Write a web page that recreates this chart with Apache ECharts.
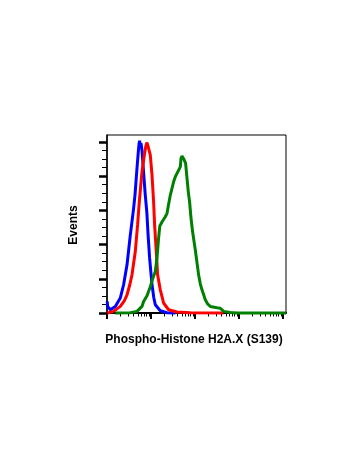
<!DOCTYPE html>
<html>
<head>
<meta charset="utf-8">
<title>Phospho-Histone H2A.X (S139) flow cytometry</title>
<script src="https://cdn.jsdelivr.net/npm/echarts@6/dist/echarts.min.js"></script>
<style>
  html, body { margin: 0; padding: 0; background: #fff; }
  #chart { width: 350px; height: 467px; }
</style>
</head>
<body>
<div id="chart"></div>
<script>
// Histogram traces: x = log10 fluorescence intensity, y = event count
const blueTrace = [
  [0.005, 13.5], [0.014, 7.7], [0.075, 3.8], [0.189, 7.7], [0.302, 17.5],
  [0.377, 33.0], [0.455, 56.3], [0.530, 91.2], [0.605, 122.3], [0.636, 137.8],
  [0.682, 169.3], [0.711, 187.9], [0.730, 198.4], [0.741, 201.3], [0.757, 194.9],
  [0.773, 198.4], [0.795, 190.2], [0.836, 161.2], [0.870, 137.8], [0.905, 118.0],
  [0.934, 91.2], [0.968, 64.4], [1.023, 33.0], [1.064, 17.8], [1.098, 9.7],
  [1.211, 2.7], [1.364, 0.3], [1.552, 0]
];
const redTrace = [
  [0.007, 0], [0.036, 0.3], [0.150, 1.9], [0.302, 7.7], [0.393, 14.3],
  [0.455, 21.3], [0.518, 33.0], [0.568, 44.6], [0.643, 71.8], [0.695, 102.9],
  [0.734, 130.0], [0.795, 165.0], [0.848, 184.4], [0.882, 194.9], [0.909, 199.2],
  [0.939, 193.7], [0.984, 184.4], [1.023, 161.2], [1.059, 130.0], [1.082, 102.9],
  [1.120, 71.8], [1.150, 44.6], [1.211, 27.1], [1.286, 11.7], [1.400, 3.8],
  [1.591, 1.2], [1.893, 0.3], [2.643, 0]
];
const greenTrace = [
  [0.189, 0], [0.530, 0.3], [0.682, 1.9], [0.795, 7.7], [0.832, 13.5],
  [0.909, 20.2], [0.984, 30.6], [1.030, 38.8], [1.098, 48.5], [1.136, 64.4],
  [1.173, 87.7], [1.200, 101.7], [1.250, 106.4], [1.286, 108.7], [1.325, 112.5],
  [1.364, 116.5], [1.393, 125.0], [1.439, 137.8], [1.477, 139.8], [1.514, 153.3],
  [1.552, 159.1], [1.591, 163.1], [1.627, 165.0], [1.666, 170.8], [1.682, 180.6],
  [1.705, 183.3], [1.723, 183.6], [1.741, 180.3], [1.764, 179.2], [1.786, 175.1],
  [1.818, 157.6], [1.848, 141.3], [1.877, 130.0], [1.909, 111.0], [1.945, 95.1],
  [2.007, 73.7], [2.082, 44.6], [2.120, 34.1], [2.159, 27.1], [2.234, 15.5],
  [2.291, 10.3], [2.348, 7.7], [2.500, 6.2], [2.575, 5.6], [2.650, 1.9],
  [2.802, 0.7], [2.955, 0.1], [4.068, 0.1]
];

// Log-decade ticks (as exponents) and count ticks
const xMajorTicks = [0, 1, 2, 3, 4];
const xMinorTicks = [];
for (let d = 0; d < 4; d++) {
  for (let m = 2; m <= 9; m++) xMinorTicks.push(d + Math.log10(m));
}
const yMajorTicks = [0, 40, 80, 120, 160, 200];
const yMinorTicks = [10, 20, 30, 50, 60, 70, 90, 100, 110, 130, 140, 150, 170, 180, 190];

const xLabel = 'Phospho-Histone H2A.X (S139)';
const yLabel = 'Events';

const X_MAX = 4.068;
const Y_MAX = 208;
const FONT = '"Liberation Sans", Arial, sans-serif';

const chart = echarts.init(document.getElementById('chart'), null, { renderer: 'canvas' });

function xAxisDef(ticks, len, width, showLine) {
  return {
    type: 'value', gridIndex: 0, position: 'bottom', min: 0, max: X_MAX,
    axisLine: { show: showLine, onZero: false, lineStyle: { color: '#000', width: 2 } },
    axisTick: { show: true, inside: false, length: len, customValues: ticks,
                lineStyle: { color: '#000', width: width } },
    axisLabel: { show: false, customValues: ticks },
    splitLine: { show: false }, minorTick: { show: false }
  };
}
function yAxisDef(ticks, len, width, showLine) {
  return {
    type: 'value', gridIndex: 0, position: 'left', min: 0, max: Y_MAX,
    axisLine: { show: showLine, onZero: false, lineStyle: { color: '#000', width: 1.5 } },
    axisTick: { show: true, inside: false, length: len, customValues: ticks,
                lineStyle: { color: '#000', width: width } },
    axisLabel: { show: false, customValues: ticks },
    splitLine: { show: false }, minorTick: { show: false }
  };
}

function traceSeries(data, color) {
  return {
    type: 'line', xAxisIndex: 0, yAxisIndex: 0, data: data,
    showSymbol: false, symbol: 'none', smooth: false, clip: false,
    lineStyle: { color: color, width: 3 }, animation: false
  };
}

chart.setOption({
  animation: false,
  backgroundColor: '#fff',
  grid: {
    left: 107, top: 135, width: 179, height: 178,
    show: true, borderColor: '#000', borderWidth: 1, backgroundColor: 'transparent'
  },
  xAxis: [
    xAxisDef(xMajorTicks, 6, 2, true),
    xAxisDef(xMinorTicks, 3.5, 1, false)
  ],
  yAxis: [
    yAxisDef(yMajorTicks, 8, 2.5, true),
    yAxisDef(yMinorTicks, 5, 1, false)
  ],
  series: [
    traceSeries(blueTrace, '#0000ff'),
    traceSeries(redTrace, '#ff0000'),
    traceSeries(greenTrace, '#008000')
  ],
  graphic: [
    {
      type: 'text', x: 194, y: 340,
      style: { text: xLabel, font: 'bold 12px ' + FONT, fill: '#000',
               align: 'center', verticalAlign: 'middle' }
    },
    {
      type: 'text', x: 74, y: 225, rotation: Math.PI / 2,
      style: { text: yLabel, font: 'bold 12px ' + FONT, fill: '#000',
               align: 'center', verticalAlign: 'middle' }
    }
  ]
});
</script>
</body>
</html>
